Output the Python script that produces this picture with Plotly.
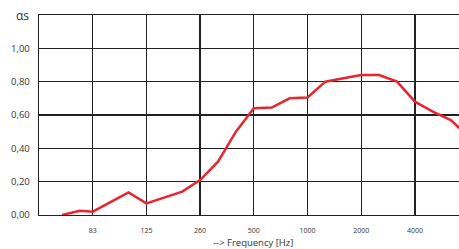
import plotly.graph_objects as go

# positions in octave-band units (1 = 83 Hz band label, 2 = 125, ...)
band_pos = [0.43, 0.76, 1.0, 1.667, 2.0, 2.667, 3.0, 3.333, 3.667, 4.0,
            4.333, 4.667, 5.0, 5.333, 5.667, 6.0, 6.333, 6.667, 7.0, 7.333, 7.667, 8.0]
alpha_s = [0.00, 0.025, 0.02, 0.135, 0.07, 0.14, 0.21, 0.32, 0.50, 0.64,
           0.645, 0.70, 0.705, 0.80, 0.82, 0.84, 0.84, 0.80, 0.68, 0.62, 0.57, 0.47]

tick_pos = [1, 2, 3, 4, 5, 6, 7]
tick_labels = ["83", "125", "260", "500", "1000", "2000", "4000"]
y_ticks = [0.0, 0.2, 0.4, 0.6, 0.8, 1.0]

W, H = 459, 249
L, T, B = 39, 15, 34
plot_w = W - L
x_max = plot_w / 53.7

fig = go.Figure()
fig.add_trace(go.Scatter(x=band_pos, y=alpha_s, mode="lines",
                         line=dict(color="#e82530", width=2.5), cliponaxis=True))

fig.update_layout(
    width=W, height=H,
    margin=dict(l=L, r=0, t=T, b=B),
    paper_bgcolor="white", plot_bgcolor="white",
    separators=",.",
    showlegend=False,
    font=dict(family="Open Sans", color="#333"),
)
fig.update_xaxes(range=[0, x_max], tickvals=tick_pos, ticktext=tick_labels,
                 showgrid=True, gridcolor="#222", gridwidth=1.3,
                 showline=True, linecolor="#222", linewidth=1.3, mirror=True,
                 ticks="outside", ticklen=8, tickcolor="rgba(0,0,0,0)",
                 tickfont=dict(size=7, color="#333"), zeroline=False, fixedrange=True)
fig.update_yaxes(range=[0, 1.2], tickvals=y_ticks, tickformat=".2f",
                 showgrid=True, gridcolor="#222", gridwidth=1.3,
                 showline=True, linecolor="#222", linewidth=1.3,
                 ticks="outside", ticklen=6, tickcolor="rgba(0,0,0,0)",
                 tickfont=dict(size=9.5, color="#333"), zeroline=False, fixedrange=True)

fig.add_annotation(text="αs", xref="paper", yref="paper", x=-17 / plot_w, y=1.0,
                   xanchor="center", yanchor="middle", showarrow=False,
                   font=dict(size=12, color="#333"))
fig.add_annotation(text="--> Frequency [Hz]", xref="paper", yref="paper",
                   x=(253 - 39) / plot_w, y=-27 / 200, xanchor="center", yanchor="middle",
                   showarrow=False, font=dict(size=9.5, color="#333"))

fig.write_html("out.html", config={"displayModeBar": False, "staticPlot": True},
               post_script="document.body.style.margin='0px';document.body.style.overflow='hidden';")
